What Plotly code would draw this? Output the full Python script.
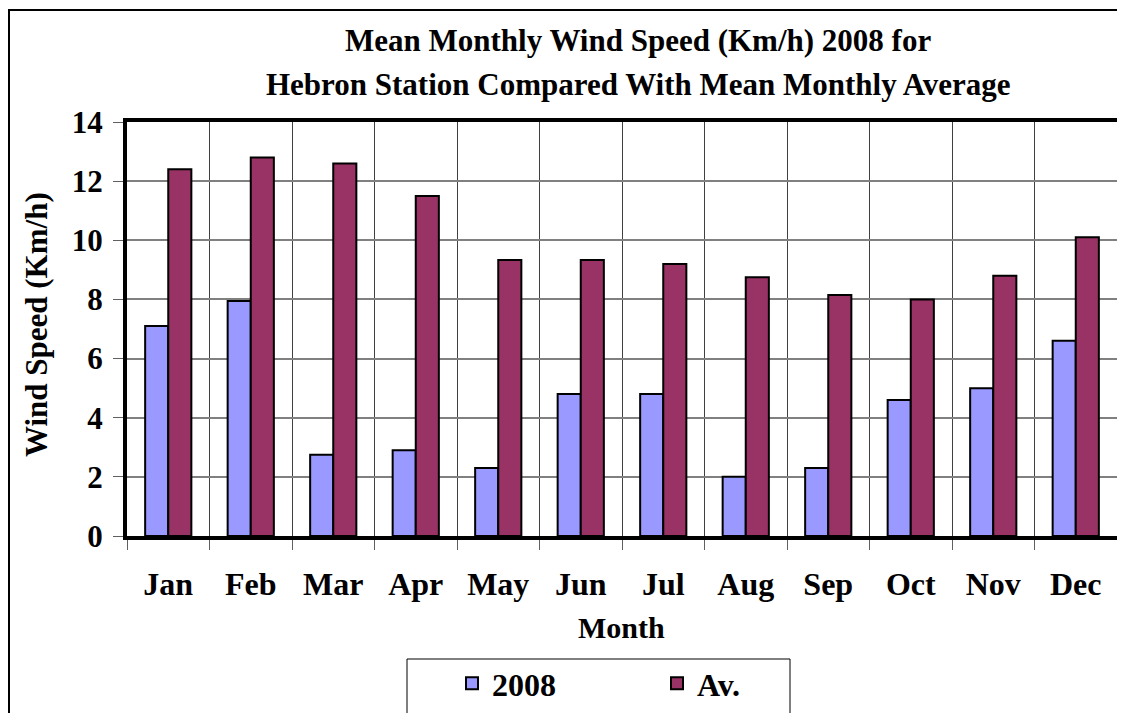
import plotly.graph_objects as go

months = ['Jan', 'Feb', 'Mar', 'Apr', 'May', 'Jun', 'Jul', 'Aug', 'Sep', 'Oct', 'Nov', 'Dec']
speed_2008 = [7.1, 7.95, 2.75, 2.9, 2.3, 4.8, 4.8, 2.0, 2.3, 4.6, 5.0, 6.6]
speed_avg = [12.4, 12.8, 12.6, 11.5, 9.33, 9.33, 9.2, 8.75, 8.15, 8.0, 8.8, 10.1]
y_ticks = [0, 2, 4, 6, 8, 10, 12, 14]
title_lines = ['Mean Monthly Wind Speed (Km/h) 2008 for',
               'Hebron Station Compared With Mean Monthly Average']

FONT = 'Liberation Serif, Times New Roman, serif'
W, H = 1125, 713
OFF = 8  # page body margin
L, R, T, B = 127 - OFF, 1117 - OFF, 122 - OFF, 536 - OFF


# positions below are given in page pixels
def px_x(x):
    return (x - OFF - L) / (R - L)


def px_y(y):
    return (B - (y - OFF)) / (B - T)


def bold(size):
    return dict(family=FONT, size=size, color='black', weight='bold')


fig = go.Figure()
fig.add_trace(go.Bar(
    x=months, y=speed_2008, name='2008',
    marker=dict(color='#9999FF', line=dict(color='black', width=2)),
))
fig.add_trace(go.Bar(
    x=months, y=speed_avg, name='Av.',
    marker=dict(color='#993366', line=dict(color='black', width=2)),
))

fig.update_layout(
    width=W, height=H,
    margin=dict(l=L, r=W - R, t=T, b=H - B, autoexpand=False),
    paper_bgcolor='white', plot_bgcolor='white',
    font=bold(30),
    barmode='group', bargap=0.44, bargroupgap=0,
    legend=dict(
        orientation='h', xref='container', yref='container',
        x=(452 - OFF) / W, y=1 - (656 - OFF) / H, xanchor='left', yanchor='top',
        entrywidth=160, bgcolor='rgba(0,0,0,0)', borderwidth=0,
        font=bold(32),
    ),
)

fig.update_xaxes(
    type='category', tickson='boundaries', automargin=False,
    showgrid=True, gridcolor='#404040', gridwidth=1,
    ticks='outside', ticklen=10, tickcolor='#606060',
    tickfont=bold(32), ticklabelstandoff=17,
    showline=True, linecolor='black', linewidth=4, mirror=True,
)
fig.update_yaxes(
    range=[0, 14], tickvals=y_ticks, automargin=False,
    showgrid=True, gridcolor='#808080', gridwidth=1.5,
    ticks='outside', ticklen=10, tickcolor='#606060',
    tickfont=bold(31), ticklabelstandoff=4,
    showline=True, linecolor='black', linewidth=4, mirror=True,
    zeroline=False,
)

# title lines
for i, line in enumerate(title_lines):
    fig.add_annotation(
        text=line, showarrow=False, xref='paper', yref='paper',
        x=px_x(638), y=px_y(40 + 44 * i), xanchor='center', yanchor='middle',
        font=bold(31),
    )

# axis titles
fig.add_annotation(
    text='Wind Speed (Km/h)', textangle=-90, showarrow=False,
    xref='paper', yref='paper', x=px_x(36), y=px_y(325),
    xanchor='center', yanchor='middle', font=bold(31),
)
fig.add_annotation(
    text='Month', showarrow=False,
    xref='paper', yref='paper', x=px_x(621), y=px_y(627),
    xanchor='center', yanchor='middle', font=bold(30),
)

# outer chart border and legend box
fig.add_shape(type='rect', xref='paper', yref='paper',
              x0=px_x(9), x1=px_x(1140), y0=px_y(730), y1=px_y(10),
              line=dict(color='black', width=2), layer='below')
fig.add_shape(type='rect', xref='paper', yref='paper',
              x0=px_x(407), x1=px_x(790), y0=px_y(730), y1=px_y(659),
              line=dict(color='black', width=1), layer='below')

fig.write_html('out.html')
